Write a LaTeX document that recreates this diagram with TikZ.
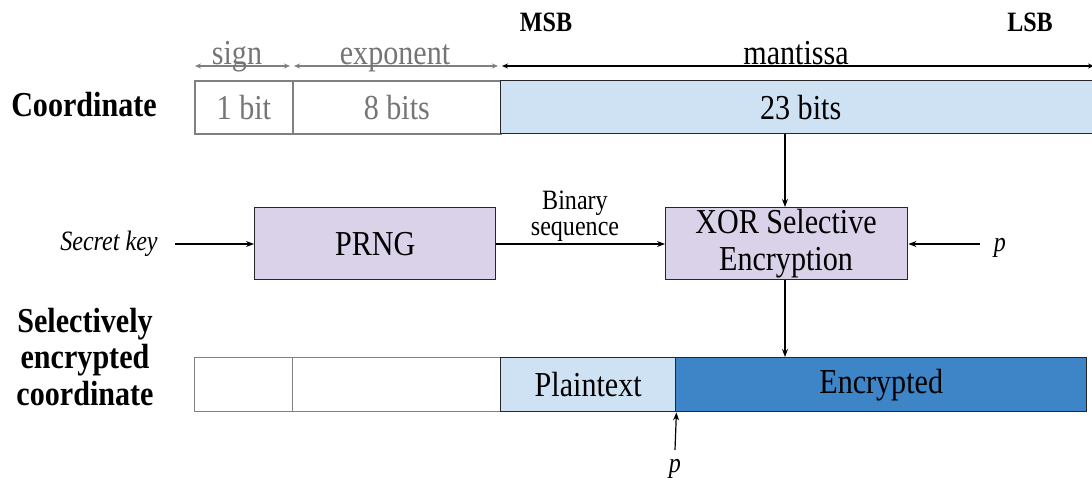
\documentclass[tikz,border=0pt]{standalone}
\usepackage{fontspec}
\setmainfont{LiberationSerif}[Extension=.ttf, UprightFont=*-Regular, BoldFont=*-Bold, ItalicFont=*-Italic, BoldItalicFont=*-BoldItalic, FakeStretch=0.86]
\usetikzlibrary{arrows.meta}
\definecolor{lblue}{HTML}{CFE2F3}
\definecolor{lav}{HTML}{D9D2E9}
\definecolor{dblue}{HTML}{3D85C6}
\definecolor{gtxt}{HTML}{757575}
\definecolor{gline}{HTML}{808080}
\tikzset{
  field/.style={draw=gline, line width=1.8pt, inner sep=0pt, anchor=north west},
  efield/.style={draw=gline, line width=1.1pt, inner sep=0pt, anchor=north west},
  dfield/.style={draw=black!85, line width=1.4pt, inner sep=0pt, anchor=north west},
  proc/.style={draw=black!85, line width=1.4pt, fill=lav, inner sep=0pt, anchor=north west, align=center},
  big/.style={font=\fontsize{35}{37}\selectfont},
  bigbold/.style={font=\bfseries\fontsize{35}{36.5}\selectfont},
  small/.style={font=\fontsize{28}{26}\selectfont},
  smallbold/.style={font=\bfseries\fontsize{28}{30}\selectfont},
  smallit/.style={font=\itshape\fontsize{28}{30}\selectfont},
  arr/.style={-{Stealth[length=8pt,width=6pt]}, line width=1.2pt},
  darr/.style={{Stealth[length=6pt,width=5pt]}-{Stealth[length=6pt,width=5pt]}, line width=1.1pt},
}
\begin{document}
\begin{tikzpicture}[x=1pt,y=-1pt]
\useasboundingbox (0,0) rectangle (1092,478);
% top row
\node[field, big, text=gtxt, minimum width=98pt, minimum height=53pt] (s1) at (194,80) {1 bit};
\node[field, big, text=gtxt, minimum width=208pt, minimum height=53pt] (e1) at (292,80) {8 bits};
\node[dfield, fill=lblue, big, minimum width=600pt, minimum height=53pt] (m1) at (500,80) {23 bits};
\node[bigbold, anchor=base] (coord) at (84,117) {Coordinate};
% header labels
\node[smallbold, anchor=base] (msb) at (546,32) {MSB};
\node[smallbold, anchor=base] (lsb) at (1030,32) {LSB};
\coordinate (sa) at (195,66); \coordinate (sb) at (290,66);
\coordinate (ea) at (294,66); \coordinate (eb) at (498,66);
\coordinate (ma) at (502,66); \coordinate (mb) at (1094,66);
\draw[darr, draw=gline] (sa) -- (sb);
\draw[darr, draw=gline] (ea) -- (eb);
\draw[darr] (ma) -- (mb);
\node[big, text=gtxt, anchor=base] (sgn) at (237,65) {sign};
\node[big, text=gtxt, anchor=base] (exp) at (395,65) {exponent};
\node[big, anchor=base] (man) at (796,65) {mantissa};
% middle row
\node[proc, big, minimum width=241pt, minimum height=72pt] (prng) at (254,207) {PRNG};
\node[proc, minimum width=242pt, minimum height=72pt] (xor) at (665,207) {};
\node[big, align=center] (xort) at (786,244) {XOR Selective\\Encryption};
\node[smallit, anchor=base] (key) at (109,251) {Secret key};
\node[smallit, anchor=base] (p1) at (1000,252) {p};
\node[small, align=center] (bin) at (575,216) {Binary\\sequence};
\coordinate (keyend) at (175,244);
\coordinate (p1end) at (980,244);
\draw[arr] (keyend) -- (prng.west |- keyend);
\draw[arr] (prng.east |- 0,244) -- (xor.west |- 0,244);
\draw[arr] (p1end) -- (xor.east |- p1end);
\draw[arr] (m1.south -| 785,0) -- (xor.north -| 785,0);
% bottom row
\node[efield, minimum width=98pt, minimum height=54pt] (s2) at (194,357) {};
\node[efield, minimum width=208pt, minimum height=54pt] (e2) at (292,357) {};
\node[dfield, fill=lblue, big, minimum width=175pt, minimum height=54pt] (pt) at (500,357) {Plaintext};
\node[dfield, fill=dblue, big, minimum width=411pt, minimum height=54pt] (enc) at (675,357) {Encrypted};
\node[bigbold, align=center] (sel) at (85,357) {Selectively\\encrypted\\coordinate};
\draw[arr] (xor.south -| 785,0) -- (enc.north -| 785,0);
\node[smallit, anchor=base] (p2) at (675,472) {p};
\coordinate (p2end) at (675,450);
\draw[arr] (p2end) -- (pt.south east);
\end{tikzpicture}
\end{document}
